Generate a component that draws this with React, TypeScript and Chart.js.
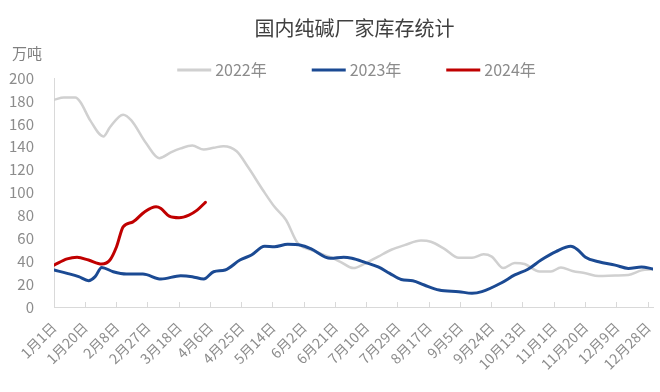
import React, { useEffect, useRef } from 'react';
import { Chart, registerables } from 'chart.js';

Chart.register(...registerables);

const FONT = '"Noto Sans CJK SC", "Noto Sans", sans-serif';

const TITLE = '国内纯碱厂家库存统计';
const UNIT = '万吨';
const SERIES_LABELS = ['2022年', '2023年', '2024年'];
const SERIES_COLORS = ['#d0d0d0', '#1b4a93', '#c00000'];

// day of year (0 = 1月1日) and inventory values (万吨)
const DAYS_2022 = [0, 6, 13, 16, 22, 30, 34, 42, 47, 56, 64, 71, 77, 84, 91, 97, 103, 111, 118, 127, 134, 141, 148, 156, 168, 174, 182, 189, 197, 205, 213, 223, 229, 237, 246, 254, 261, 266, 273, 280, 286, 295, 302, 308, 315, 323, 331, 341, 349, 357, 364];
const VALUES_2022 = [181, 183, 183, 179, 163, 149, 157, 168, 163, 143, 130, 135, 138.5, 141, 137.5, 139, 140.5, 136, 122, 102, 87.5, 76, 56, 50, 43.5, 39.5, 34, 38, 44, 50, 54, 58, 57, 51, 43, 43, 46, 44, 34, 38.5, 37.5, 31, 31, 34.5, 31.5, 29.5, 27, 27.5, 28, 32, 33];

const DAYS_2023 = [0, 8, 15, 21, 25, 29, 36, 44, 54, 65, 77, 84, 91, 97, 104, 113, 120, 128, 134, 142, 150, 156, 168, 176, 181, 189, 197, 204, 211, 218, 225, 234, 246, 254, 260, 272, 280, 288, 296, 305, 314, 318, 323, 331, 341, 349, 357, 364];
const VALUES_2023 = [32.3, 29.4, 26.5, 23, 26.5, 34.6, 30.8, 28.8, 28.8, 24.4, 27.3, 26.5, 24.4, 30.8, 32.3, 41, 45.4, 53, 52.6, 54.7, 54, 51, 42.5, 43.4, 42.5, 39, 35, 29.4, 24, 23, 19.2, 14.8, 13.4, 12, 13.4, 21.2, 28, 33, 41, 48.3, 53, 50.3, 43.4, 39.5, 36.6, 33.7, 35, 33.2];

const DAYS_2024 = [0, 8, 14, 21, 29, 34, 38, 42, 48, 55, 62, 65, 70, 76, 82, 87, 92];
const VALUES_2024 = [36.6, 42, 43.4, 41, 37.5, 41, 52.6, 70, 74.4, 83, 87.5, 86, 79.4, 78, 80.3, 84.6, 91.4];

const MONTH_DAYS = [31, 28, 31, 30, 31, 30, 31, 31, 30, 31, 30, 31];
const X_MIN = 0;
const X_MAX = 364;
const X_STEP = 19;
const Y_MIN = 0;
const Y_MAX = 200;
const Y_STEP = 20;

function dayLabel(day: number): string {
  let m = 0;
  let d = Math.round(day);
  while (m < 11 && d >= MONTH_DAYS[m]) {
    d -= MONTH_DAYS[m];
    m++;
  }
  return `${m + 1}月${d + 1}日`;
}

function toPoints(days: number[], values: number[]) {
  return days.map((x, i) => ({ x, y: values[i] }));
}

const headerPlugin = {
  id: 'header',
  afterDraw(chart: any) {
    const { ctx, chartArea } = chart;
    const cx = (chartArea.left + chartArea.right) / 2;
    ctx.save();
    ctx.textBaseline = 'middle';
    ctx.textAlign = 'center';
    ctx.font = `20px ${FONT}`;
    ctx.fillStyle = '#404040';
    ctx.fillText(TITLE, cx + 1, 28);

    ctx.textAlign = 'left';
    ctx.font = `15px ${FONT}`;
    ctx.fillStyle = '#808080';
    ctx.fillText(UNIT, 12, 53);

    const lineLen = 34;
    const gapText = 4;
    const gapItem = 45;
    const ly = 70;
    ctx.font = `16px ${FONT}`;
    const ds = chart.data.datasets;
    const widths = ds.map((d: any) => lineLen + gapText + ctx.measureText(d.label).width);
    const total = widths.reduce((a: number, b: number) => a + b, 0) + gapItem * (ds.length - 1);
    let x = cx + 3 - total / 2;
    ds.forEach((d: any, i: number) => {
      ctx.strokeStyle = d.borderColor;
      ctx.lineWidth = 3;
      ctx.beginPath();
      ctx.moveTo(x, ly);
      ctx.lineTo(x + lineLen, ly);
      ctx.stroke();
      ctx.fillStyle = '#8c8c8c';
      ctx.fillText(d.label, x + lineLen + gapText, ly);
      x += widths[i] + gapItem;
    });
    ctx.restore();
  },
};

export default function App() {
  const canvasRef = useRef<HTMLCanvasElement | null>(null);

  useEffect(() => {
    if (!canvasRef.current) return;
    const series = [
      toPoints(DAYS_2022, VALUES_2022),
      toPoints(DAYS_2023, VALUES_2023),
      toPoints(DAYS_2024, VALUES_2024),
    ];
    const widths = [2.5, 3, 3];
    const chart = new Chart(canvasRef.current, {
      type: 'line',
      data: {
        datasets: series.map((data, i) => ({
          label: SERIES_LABELS[i],
          data,
          borderColor: SERIES_COLORS[i],
          backgroundColor: SERIES_COLORS[i],
          borderWidth: widths[i],
          pointRadius: 0,
          cubicInterpolationMode: 'monotone' as const,
          borderCapStyle: 'round' as const,
          borderJoinStyle: 'round' as const,
          order: 3 - i,
        })),
      },
      options: {
        responsive: false,
        animation: false,
        events: [],
        layout: { padding: { top: 78, right: 7, left: 0, bottom: 0 } },
        plugins: {
          legend: { display: false },
          title: { display: false },
          tooltip: { enabled: false },
        },
        scales: {
          x: {
            type: 'linear',
            min: X_MIN,
            max: X_MAX,
            bounds: 'data',
            afterBuildTicks: (scale: any) => {
              scale.ticks = scale.ticks.filter((t: any) => t.value % X_STEP === 0);
            },
            afterFit: (scale: any) => {
              scale.height = 85;
              scale.paddingRight = 0;
              scale.paddingLeft = 0;
            },
            grid: {
              display: true,
              drawOnChartArea: false,
              drawTicks: true,
              tickLength: -5,
              color: '#d9d9d9',
            },
            border: { display: true, color: '#d9d9d9', width: 1 },
            ticks: {
              stepSize: X_STEP,
              includeBounds: false,
              autoSkip: false,
              maxRotation: 45,
              minRotation: 45,
              padding: 17,
              color: '#8c8c8c',
              font: { family: FONT, size: 14 },
              callback: (v: any) => dayLabel(Number(v)),
            },
          },
          y: {
            min: Y_MIN,
            max: Y_MAX,
            afterFit: (scale: any) => {
              scale.width = 54;
              scale.paddingTop = 0;
              scale.paddingBottom = 0;
            },
            grid: { display: false, drawTicks: false },
            border: { display: true, color: '#d9d9d9', width: 1 },
            ticks: {
              stepSize: Y_STEP,
              padding: 20,
              color: '#8c8c8c',
              font: { family: FONT, size: 15 },
            },
          },
        },
      },
      plugins: [headerPlugin],
    } as any);
    return () => chart.destroy();
  }, []);

  return (
    <div style={{ position: 'absolute', left: 0, top: 0, width: 660, height: 392, background: '#fff' }}>
      <canvas ref={canvasRef} width={660} height={392} />
    </div>
  );
}
